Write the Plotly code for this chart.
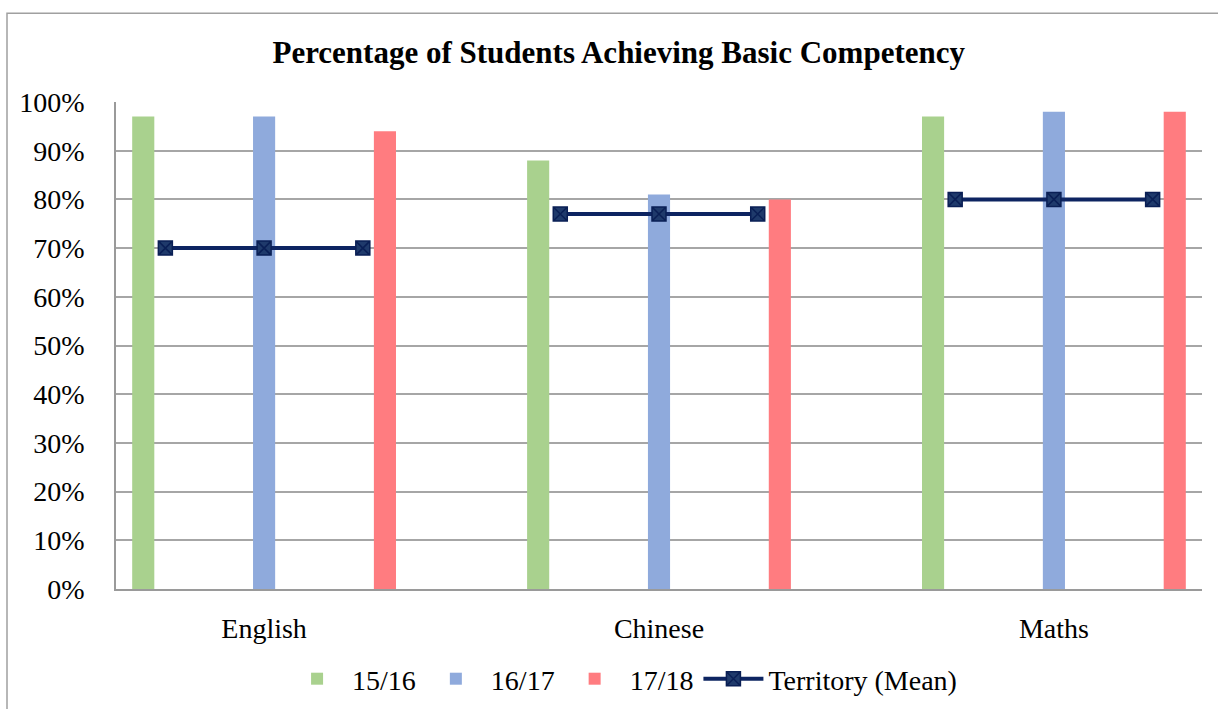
import plotly.graph_objects as go

# Values (percent of students)
subjects = ["English", "Chinese", "Maths"]
years = ["15/16", "16/17", "17/18"]
pct_1516 = [97, 88, 97]
pct_1617 = [97, 81, 98]
pct_1718 = [94, 80, 98]
territory_mean = [70, 77, 80]

bar_colors = ["#A9D18E", "#8FAADC", "#FF7C80"]
line_color = "#0D2461"
font_family = "Liberation Serif"

BAR_OFFSET = 0.306
BAR_WIDTH = 0.056
LINE_OFFSET = 0.25

fig = go.Figure()

for k, (name, vals) in enumerate(zip(years, [pct_1516, pct_1617, pct_1718])):
    off = (k - 1) * BAR_OFFSET
    fig.add_trace(go.Bar(
        x=[i + off for i in range(len(subjects))],
        y=[v / 100 for v in vals],
        width=BAR_WIDTH,
        name=name,
        marker=dict(color=bar_colors[k], line=dict(width=0)),
        hovertemplate=name + "<br>%{y:.0%}<extra></extra>",
    ))

# Territory mean: a flat segment across each subject group
line_x, line_y = [], []
for i, m in enumerate(territory_mean):
    for off in (-LINE_OFFSET, 0, LINE_OFFSET):
        line_x.append(i + off)
        line_y.append(m / 100)
    line_x.append(None)
    line_y.append(None)

fig.add_trace(go.Scatter(
    x=line_x,
    y=line_y,
    mode="lines+markers",
    name="Territory (Mean)",
    line=dict(color=line_color, width=4),
    marker=dict(symbol="square-x", size=14, color="#1F3A6B",
                line=dict(color="#0A1F55", width=1.5)),
    connectgaps=False,
    hovertemplate="Territory (Mean)<br>%{y:.0%}<extra></extra>",
))

fig.update_layout(
    width=1218,
    height=709,
    paper_bgcolor="white",
    plot_bgcolor="white",
    margin=dict(l=116, r=16, t=102, b=120),
    title=dict(
        text="<b>Percentage of Students Achieving Basic Competency</b>",
        x=0.508, xanchor="center", y=0.927, yanchor="middle",
        font=dict(family=font_family, size=31, color="black"),
    ),
    font=dict(family=font_family, size=28, color="black"),
    barmode="overlay",
    showlegend=True,
    legend=dict(
        orientation="h", x=0.466, xanchor="center",
        yref="container", y=1 - 679 / 709, yanchor="middle",
        font=dict(size=28), traceorder="normal", itemwidth=60,
    ),
    xaxis=dict(
        range=[-0.375, 2.375],
        tickvals=list(range(len(subjects))),
        ticktext=subjects,
        showgrid=False,
        zeroline=False,
        showline=True, linecolor="#9A9A9A", linewidth=1.5,
        ticks="", ticklabelstandoff=14, automargin=False,
    ),
    yaxis=dict(
        range=[0, 1],
        dtick=0.1,
        tickformat=".0%",
        showgrid=True, gridcolor="#A6A6A6", gridwidth=1.5,
        zeroline=False,
        showline=True, linecolor="#9A9A9A", linewidth=1.5,
        ticks="", ticklabelstandoff=24, automargin=False,
    ),
    shapes=[dict(
        type="rect", xref="paper", yref="paper",
        x0=-109 / 1086, x1=1.05, y0=-0.3, y1=(589 - 13) / 487.3,
        line=dict(color="#A0A0A0", width=1.5), fillcolor="rgba(0,0,0,0)",
        layer="below",
    )],
)

fig.write_html("out.html", config={"displayModeBar": False},
               post_script="document.body.style.margin='0';")
